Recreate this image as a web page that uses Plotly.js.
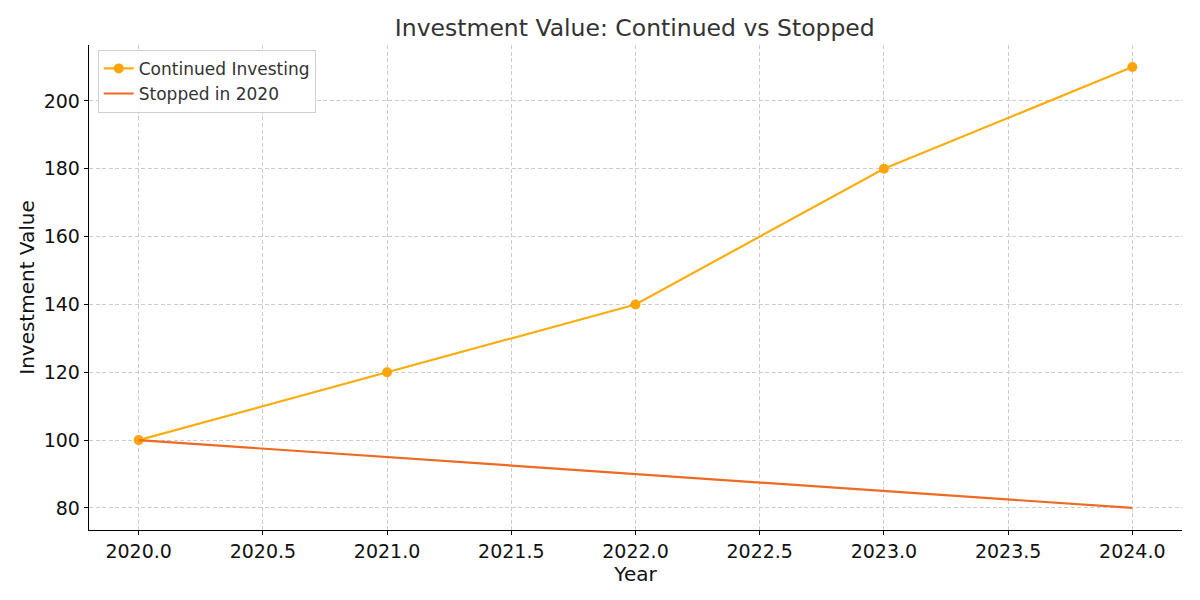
<!DOCTYPE html>
<html>
<head>
<meta charset="utf-8">
<script src="https://cdn.plot.ly/plotly-3.0.1.min.js"></script>
<style>
  body { margin: 0; background: #fff; }
  #chart { width: 1200px; height: 600px; }
</style>
</head>
<body>
<div id="chart"></div>
<script>
const years = [2020, 2021, 2022, 2023, 2024];
const continuedValues = [100, 120, 140, 180, 210];
const stoppedValues = [100, 95, 90, 85, 80];
const xTicks = [2020, 2020.5, 2021, 2021.5, 2022, 2022.5, 2023, 2023.5, 2024];
const yTicks = [80, 100, 120, 140, 160, 180, 200];

const font = "DejaVu Sans, sans-serif";

const data = [
  {
    x: years,
    y: continuedValues,
    name: "Continued Investing",
    type: "scatter",
    mode: "lines+markers",
    line: { color: "#f9ad0e", width: 2.2 },
    marker: { color: "#fca50a", size: 10 },
  },
  {
    x: years,
    y: stoppedValues,
    name: "Stopped in 2020",
    type: "scatter",
    mode: "lines",
    line: { color: "#ec6a22", width: 2.2 },
  },
];

const axisCommon = {
  showline: true,
  linecolor: "#000",
  linewidth: 1.3,
  mirror: false,
  ticks: "outside",
  ticklen: 4,
  tickcolor: "#000",
  showgrid: true,
  gridcolor: "#cccccc",
  griddash: "4px,2.5px",
  gridwidth: 1,
  zeroline: false,
  tickfont: { family: font, size: 19, color: "#111" },
};

const layout = {
  width: 1200,
  height: 600,
  paper_bgcolor: "#fff",
  plot_bgcolor: "#fff",
  margin: { l: 89, r: 18, t: 45, b: 70 },
  title: {
    text: "Investment Value: Continued vs Stopped",
    font: { family: font, size: 23.5, color: "#333" },
    x: 0.529,
    xanchor: "center",
    y: 0.953,
    yanchor: "middle",
  },
  xaxis: Object.assign({}, axisCommon, {
    range: [2019.8, 2024.2],
    tickvals: xTicks,
    ticktext: xTicks.map((v) => v.toFixed(1)),
    title: { text: "Year", font: { family: font, size: 20, color: "#111" }, standoff: 1 },
  }),
  yaxis: Object.assign({}, axisCommon, {
    range: [73.5, 216.5],
    tickvals: yTicks,
    title: { text: "Investment Value", font: { family: font, size: 20, color: "#111" }, standoff: 3 },
  }),
  legend: {
    x: 0.008,
    y: 0.99,
    xanchor: "left",
    yanchor: "top",
    bgcolor: "rgba(255,255,255,0.9)",
    bordercolor: "#d0d0d0",
    borderwidth: 1,
    font: { family: font, size: 17, color: "#333" },
  },
  showlegend: true,
};

Plotly.newPlot("chart", data, layout, { displayModeBar: false, staticPlot: true });
</script>
</body>
</html>
